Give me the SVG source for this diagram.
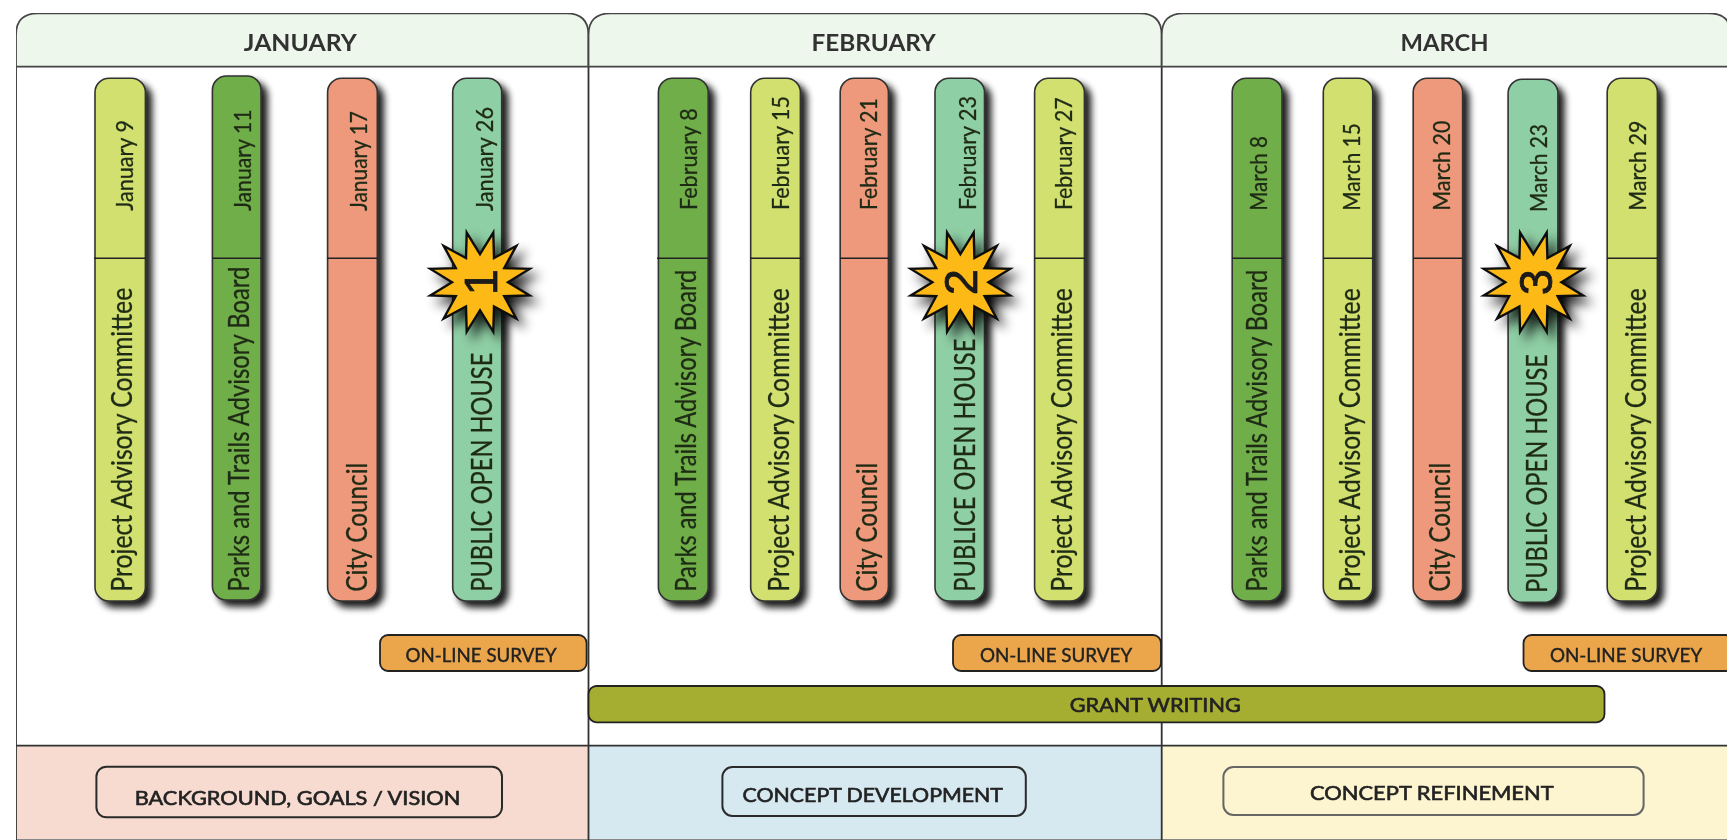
<svg xmlns="http://www.w3.org/2000/svg" width="1727" height="840" viewBox="0 0 1727 840">
<style>
text{font-family:"Lato","Liberation Sans",sans-serif;fill:#222}
.m{font-size:28px;fill:#1f2a14;stroke:#1f2a14;stroke-width:.3}
.d{font-size:23px;fill:#1f2a14;stroke:#1f2a14;stroke-width:.3}
.h{font-size:22px;font-weight:700;fill:#333}
.s{font-size:19px;fill:#222;stroke:#222;stroke-width:.4}
.c{font-size:19px;fill:#222;stroke:#222;stroke-width:.6}
.n{font-size:47px;font-family:"Liberation Sans",sans-serif;text-anchor:middle;fill:#1a1a1a;stroke:#1a1a1a;stroke-width:.8}
.hd{fill:#eef7ec;stroke:#444;stroke-width:1.8}
.ln{stroke:#333;stroke-width:1.8;fill:none}
.bar{stroke:#333;stroke-width:1.6;filter:url(#sh)}
.dv{stroke:#222;stroke-width:1.6}
.lg{fill:#d2e070}.gr{fill:#6fae48}.sa{fill:#ef997b}.te{fill:#8fcfa5}
.sv{fill:#eba64c;stroke:#222;stroke-width:1.8}
.bx{fill:none;stroke:#2b2b2b;stroke-width:2}
.st{fill:#fdb913;stroke:#111;stroke-width:2.4;stroke-linejoin:miter;filter:url(#ss)}
</style>
<defs>
<filter id="sh" x="-40%" y="-5%" width="200%" height="110%"><feGaussianBlur in="SourceAlpha" stdDeviation="3.8"/><feOffset dx="6" dy="6"/><feComponentTransfer><feFuncA type="linear" slope=".9"/></feComponentTransfer><feMerge><feMergeNode/><feMergeNode in="SourceGraphic"/></feMerge></filter>
<filter id="ss" x="-40%" y="-40%" width="190%" height="190%"><feGaussianBlur in="SourceAlpha" stdDeviation="6"/><feOffset dx="7" dy="7"/><feComponentTransfer><feFuncA type="linear" slope=".85"/></feComponentTransfer><feMerge><feMergeNode/><feMergeNode in="SourceGraphic"/></feMerge></filter>
<filter id="soft" x="0" y="0" width="100%" height="100%"><feGaussianBlur stdDeviation=".6"/></filter>
<polygon id="star" points="0,-28 13.3,-49.6 14,-24.2 36.3,-36.3 24.2,-14 49.6,-13.3 28,0 49.6,13.3 24.2,14 36.3,36.3 14,24.2 13.3,49.6 0,28 -13.3,49.6 -14,24.2 -36.3,36.3 -24.2,14 -49.6,13.3 -28,0 -49.6,-13.3 -24.2,-14 -36.3,-36.3 -14,-24.2 -13.3,-49.6"/>
</defs>
<rect width="1727" height="840" fill="#fff"/>
<g filter="url(#soft)">
<g id="phases">
<rect x="16" y="746" width="572.5" height="94" fill="#f7dbd1"/>
<rect x="588.5" y="746" width="573.2" height="94" fill="#d6e8f0"/>
<rect x="1161.7" y="746" width="566" height="94" fill="#fdf4d0"/>
<path d="M16 839.5H1727" stroke="#888" stroke-width="1" fill="none"/>
</g>
<g id="frame">
<path class="ln" d="M16 66V840M588.5 30V840M1161.7 30V840M16 745.7H1727"/>
</g>
<g id="month-january"><path class="hd" d="M16 66.7V35Q16 13.3 38 13.3H566.5Q588.5 13.3 588.5 35V66.7Z"/><text class="h" x="243.8" y="50.7" textLength="113" lengthAdjust="spacingAndGlyphs">JANUARY</text></g>
<g id="month-february"><path class="hd" d="M588.5 66.7V35Q588.5 13.3 610.5 13.3H1139.7Q1161.7 13.3 1161.7 35V66.7Z"/><text class="h" x="811.5" y="50.7" textLength="124.4" lengthAdjust="spacingAndGlyphs">FEBRUARY</text></g>
<g id="month-march"><path class="hd" d="M1161.7 66.7V35Q1161.7 13.3 1183.7 13.3H1709Q1731 13.3 1731 35V66.7Z"/><text class="h" x="1400.6" y="50.7" textLength="88" lengthAdjust="spacingAndGlyphs">MARCH</text></g>

<g id="jan-9"><rect class="bar lg" x="95" y="78.3" width="50.4" height="522.7" rx="14"/><path class="dv" d="M94 258.3H146"/><text class="d" transform="translate(133.2,210.7) rotate(-90)" textLength="90.7" lengthAdjust="spacingAndGlyphs">January 9</text><text class="m" transform="translate(132,591.7) rotate(-90)" textLength="304" lengthAdjust="spacingAndGlyphs">Project Advisory Committee</text></g>
<g id="jan-11"><rect class="bar gr" x="212.4" y="76" width="48.6" height="524" rx="14"/><path class="dv" d="M212 258.3H262"/><text class="d" transform="translate(250.6,211) rotate(-90)" textLength="101.5" lengthAdjust="spacingAndGlyphs">January 11</text><text class="m" transform="translate(248.7,591.7) rotate(-90)" textLength="325" lengthAdjust="spacingAndGlyphs">Parks and Trails Advisory Board</text></g>
<g id="jan-17"><rect class="bar sa" x="327.6" y="78.3" width="49.7" height="522.7" rx="14"/><path class="dv" d="M327 258.3H378"/><text class="d" transform="translate(367.4,211) rotate(-90)" textLength="100" lengthAdjust="spacingAndGlyphs">January 17</text><text class="m" transform="translate(366.6,591.7) rotate(-90)" textLength="129" lengthAdjust="spacingAndGlyphs">City Council</text></g>
<g id="jan-26"><rect class="bar te" x="452.7" y="78.3" width="49" height="522.7" rx="14"/><text class="d" transform="translate(493,211) rotate(-90)" textLength="104" lengthAdjust="spacingAndGlyphs">January 26</text><text class="m" transform="translate(491.8,591.7) rotate(-90)" textLength="239" lengthAdjust="spacingAndGlyphs">PUBLIC OPEN HOUSE</text></g>

<g id="feb-8"><rect class="bar gr" x="658.4" y="78.3" width="49.8" height="522.7" rx="14"/><path class="dv" d="M657 258.3H708"/><text class="d" transform="translate(696.7,210) rotate(-90)" textLength="101.7" lengthAdjust="spacingAndGlyphs">February 8</text><text class="m" transform="translate(696,591.7) rotate(-90)" textLength="322" lengthAdjust="spacingAndGlyphs">Parks and Trails Advisory Board</text></g>
<g id="feb-15"><rect class="bar lg" x="750.7" y="78.3" width="49.7" height="522.7" rx="14"/><path class="dv" d="M750 258.3H801"/><text class="d" transform="translate(788.6,210) rotate(-90)" textLength="114" lengthAdjust="spacingAndGlyphs">February 15</text><text class="m" transform="translate(788.6,591.7) rotate(-90)" textLength="303.4" lengthAdjust="spacingAndGlyphs">Project Advisory Committee</text></g>
<g id="feb-21"><rect class="bar sa" x="840.2" y="78.3" width="48.2" height="522.7" rx="14"/><path class="dv" d="M840 258.3H889"/><text class="d" transform="translate(877.3,210) rotate(-90)" textLength="111.7" lengthAdjust="spacingAndGlyphs">February 21</text><text class="m" transform="translate(876.6,591.7) rotate(-90)" textLength="129" lengthAdjust="spacingAndGlyphs">City Council</text></g>
<g id="feb-23"><rect class="bar te" x="935" y="78.3" width="49.5" height="522.7" rx="14"/><text class="d" transform="translate(976,210) rotate(-90)" textLength="114" lengthAdjust="spacingAndGlyphs">February 23</text><text class="m" transform="translate(975.3,591.7) rotate(-90)" textLength="253" lengthAdjust="spacingAndGlyphs">PUBLICE OPEN HOUSE</text></g>
<g id="feb-27"><rect class="bar lg" x="1034.6" y="78.3" width="49.8" height="522.7" rx="14"/><path class="dv" d="M1034 258.3H1085"/><text class="d" transform="translate(1071.7,210) rotate(-90)" textLength="112.7" lengthAdjust="spacingAndGlyphs">February 27</text><text class="m" transform="translate(1071.7,591.7) rotate(-90)" textLength="303.4" lengthAdjust="spacingAndGlyphs">Project Advisory Committee</text></g>

<g id="mar-8"><rect class="bar gr" x="1232.2" y="78.3" width="49.8" height="522.7" rx="14"/><path class="dv" d="M1232 258.3H1283"/><text class="d" transform="translate(1266.7,210.7) rotate(-90)" textLength="74.7" lengthAdjust="spacingAndGlyphs">March 8</text><text class="m" transform="translate(1266.7,591.7) rotate(-90)" textLength="322" lengthAdjust="spacingAndGlyphs">Parks and Trails Advisory Board</text></g>
<g id="mar-15"><rect class="bar lg" x="1323.3" y="78.3" width="49.4" height="522.7" rx="14"/><path class="dv" d="M1323 258.3H1373"/><text class="d" transform="translate(1359.7,210.7) rotate(-90)" textLength="87.4" lengthAdjust="spacingAndGlyphs">March 15</text><text class="m" transform="translate(1360.4,591.7) rotate(-90)" textLength="303.4" lengthAdjust="spacingAndGlyphs">Project Advisory Committee</text></g>
<g id="mar-20"><rect class="bar sa" x="1413.2" y="78.3" width="49.4" height="522.7" rx="14"/><path class="dv" d="M1413 258.3H1463"/><text class="d" transform="translate(1450.4,210.7) rotate(-90)" textLength="90" lengthAdjust="spacingAndGlyphs">March 20</text><text class="m" transform="translate(1450.4,591.7) rotate(-90)" textLength="129" lengthAdjust="spacingAndGlyphs">City Council</text></g>
<g id="mar-23"><rect class="bar te" x="1508.1" y="79.3" width="49.8" height="523" rx="14"/><text class="d" transform="translate(1547.2,212) rotate(-90)" textLength="88" lengthAdjust="spacingAndGlyphs">March 23</text><text class="m" transform="translate(1546.8,593) rotate(-90)" textLength="239" lengthAdjust="spacingAndGlyphs">PUBLIC OPEN HOUSE</text></g>
<g id="mar-29"><rect class="bar lg" x="1607.2" y="78.3" width="50.2" height="522.7" rx="14"/><path class="dv" d="M1607 258.3H1658"/><text class="d" transform="translate(1645.5,210.7) rotate(-90)" textLength="90" lengthAdjust="spacingAndGlyphs">March 29</text><text class="m" transform="translate(1645.5,591.7) rotate(-90)" textLength="303.4" lengthAdjust="spacingAndGlyphs">Project Advisory Committee</text></g>

<g id="survey-jan"><rect class="sv" x="380" y="635" width="206.6" height="36" rx="8"/><text class="s" x="405.6" y="661.7" textLength="151.2" lengthAdjust="spacingAndGlyphs">ON-LINE SURVEY</text></g>
<g id="survey-feb"><rect class="sv" x="953" y="635" width="208" height="36" rx="8"/><text class="s" x="979.9" y="661.7" textLength="152.3" lengthAdjust="spacingAndGlyphs">ON-LINE SURVEY</text></g>
<g id="survey-mar"><rect class="sv" x="1523.5" y="635" width="210" height="36" rx="8"/><text class="s" x="1549.9" y="661.7" textLength="152.3" lengthAdjust="spacingAndGlyphs">ON-LINE SURVEY</text></g>
<g id="grant-writing"><rect x="588.5" y="686" width="1016" height="36.3" rx="8" fill="#a6ae31" stroke="#222" stroke-width="1.8"/><text class="c" x="1069.8" y="712.3" textLength="170.9" lengthAdjust="spacingAndGlyphs">GRANT WRITING</text></g>

<g id="star-1"><use href="#star" class="st" x="480" y="282.2"/><text class="n" transform="translate(496.5,282.2) rotate(-90)">1</text></g>
<g id="star-2"><use href="#star" class="st" x="960.4" y="282.2"/><text class="n" transform="translate(977,282.2) rotate(-90)">2</text></g>
<g id="star-3"><use href="#star" class="st" x="1533.4" y="282.2"/><text class="n" transform="translate(1552,282.2) rotate(-90)">3</text></g>

<g id="phase-background"><rect class="bx" x="96.4" y="766.7" width="405.6" height="50.6" rx="10"/><text class="c" x="134.7" y="805" textLength="325.7" lengthAdjust="spacingAndGlyphs">BACKGROUND, GOALS / VISION</text></g>
<g id="phase-development"><rect class="bx" x="722.4" y="767" width="303.4" height="49" rx="10"/><text class="c" x="742.6" y="802.3" textLength="260.3" lengthAdjust="spacingAndGlyphs">CONCEPT DEVELOPMENT</text></g>
<g id="phase-refinement"><rect class="bx" style="stroke:#666" x="1223.4" y="767" width="420.2" height="48" rx="10"/><text class="c" x="1309.9" y="800" textLength="243.8" lengthAdjust="spacingAndGlyphs">CONCEPT REFINEMENT</text></g>
</g>
</svg>
